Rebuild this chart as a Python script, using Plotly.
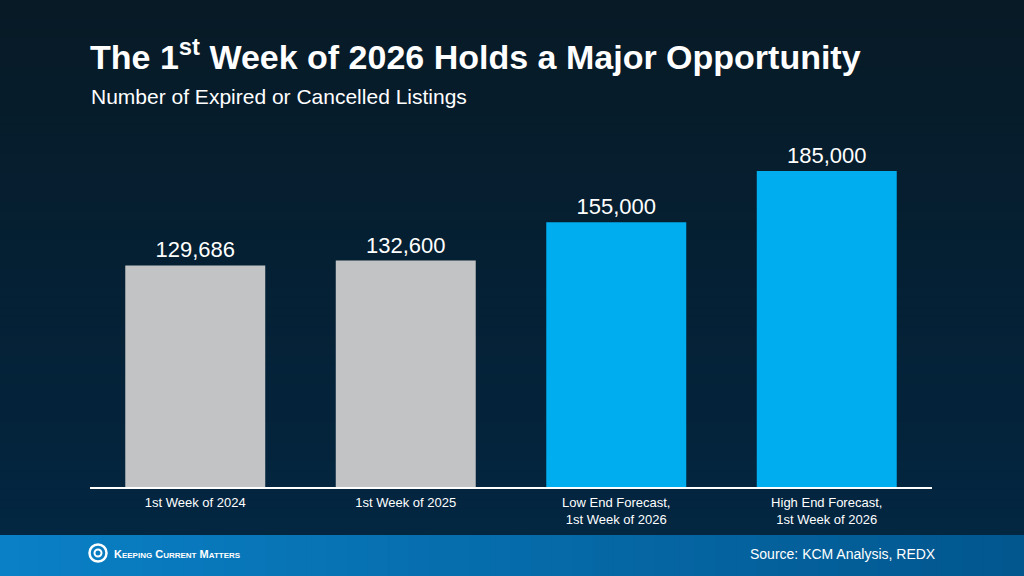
import plotly.graph_objects as go

categories = ["1st Week of 2024", "1st Week of 2025",
              "Low End Forecast,<br>1st Week of 2026",
              "High End Forecast,<br>1st Week of 2026"]
values = [129686, 132600, 155000, 185000]
value_labels = ["129,686", "132,600", "155,000", "185,000"]
bar_colors = ["#c1c3c4", "#c1c3c4", "#00aeef", "#00aeef"]

W, H = 1024, 576
L, R, T, B = 90, 92, 140, 89
pw, ph = W - L - R, H - T - B


def px(x):
    return (x - L) / pw


def py(y):
    return (H - B - y) / ph


def lerp(c1, c2, t):
    a = [int(c1[i:i+2], 16) for i in (1, 3, 5)]
    b = [int(c2[i:i+2], 16) for i in (1, 3, 5)]
    return "#%02x%02x%02x" % tuple(round(a[k] + (b[k]-a[k])*t) for k in range(3))


shapes = []
# vertical gradient background over the whole page
N = 60
top_c, bot_c = "#071a26", "#032743"
for i in range(N):
    ya = i * H / N
    yb = (i + 1) * H / N
    shapes.append(dict(type="rect", xref="paper", yref="paper", x0=px(-5), x1=px(W + 5),
                       y0=py(yb + 1), y1=py(ya), fillcolor=lerp(top_c, bot_c, i / (N - 1)),
                       line=dict(width=0), layer="below"))
# footer band with horizontal gradient
M = 50
for i in range(M):
    xa = i * W / M
    xb = (i + 1) * W / M
    shapes.append(dict(type="rect", xref="paper", yref="paper",
                       x0=px(xa - 1), x1=px(xb), y0=py(H + 5), y1=py(535),
                       fillcolor=lerp("#0a80c6", "#02578f", i / (M - 1)),
                       line=dict(width=0), layer="below"))

fig = go.Figure()
fig.add_trace(go.Bar(
    x=categories, y=values, text=value_labels, textposition="outside",
    marker=dict(color=bar_colors, line=dict(width=0)),
    textfont=dict(family="Liberation Sans, Arial", size=22, color="white"),
    cliponaxis=False, width=0.665, hoverinfo="skip",
))

# logo rings
shapes.append(dict(type="circle", xref="paper", yref="paper",
                   x0=px(89.5), x1=px(106.5), y0=py(561.5), y1=py(544.5),
                   line=dict(color="white", width=2.5), layer="above"))
shapes.append(dict(type="circle", xref="paper", yref="paper",
                   x0=px(94.5), x1=px(101.5), y0=py(556.5), y1=py(549.5),
                   line=dict(color="white", width=2), layer="above"))

annotations = [
    dict(text="The 1<sup>st</sup> Week of 2026 Holds a Major Opportunity",
         xref="paper", yref="paper", x=px(88), y=py(54.5), xanchor="left", yanchor="middle",
         showarrow=False, font=dict(family="Liberation Sans, Arial", size=34, color="white",
                                    weight="bold")),
    dict(text="Number of Expired or Cancelled Listings",
         xref="paper", yref="paper", x=px(89), y=py(96), xanchor="left", yanchor="middle",
         showarrow=False, font=dict(family="Liberation Sans, Arial", size=21, color="white")),
    dict(text="Keeping Current Matters",
         xref="paper", yref="paper", x=px(112), y=py(554), xanchor="left", yanchor="middle",
         showarrow=False, font=dict(family="Liberation Sans Narrow, Liberation Sans, Arial",
                                    size=11, color="white",
                                    variant="small-caps", weight="bold")),
    dict(text="Source: KCM Analysis, REDX",
         xref="paper", yref="paper", x=px(938), y=py(554), xanchor="right", yanchor="middle",
         showarrow=False, font=dict(family="Liberation Sans, Arial", size=14, color="white")),
]

fig.update_layout(
    width=W, height=H,
    margin=dict(l=L, r=R, t=T, b=B),
    paper_bgcolor="#061e30", plot_bgcolor="rgba(0,0,0,0)",
    showlegend=False, shapes=shapes, annotations=annotations,
    bargap=0.335,
    xaxis=dict(showgrid=False, showline=True, linecolor="white", linewidth=2,
               tickfont=dict(family="Liberation Sans, Arial", size=13, color="white"),
               ticks="", ticklabelstandoff=2, fixedrange=True),
    yaxis=dict(range=[0, 203150], visible=False, showgrid=False, zeroline=False, fixedrange=True),
)

fig.write_html("out.html", config={"displayModeBar": False},
               post_script="document.body.style.margin='0';document.body.style.overflow='hidden';")
